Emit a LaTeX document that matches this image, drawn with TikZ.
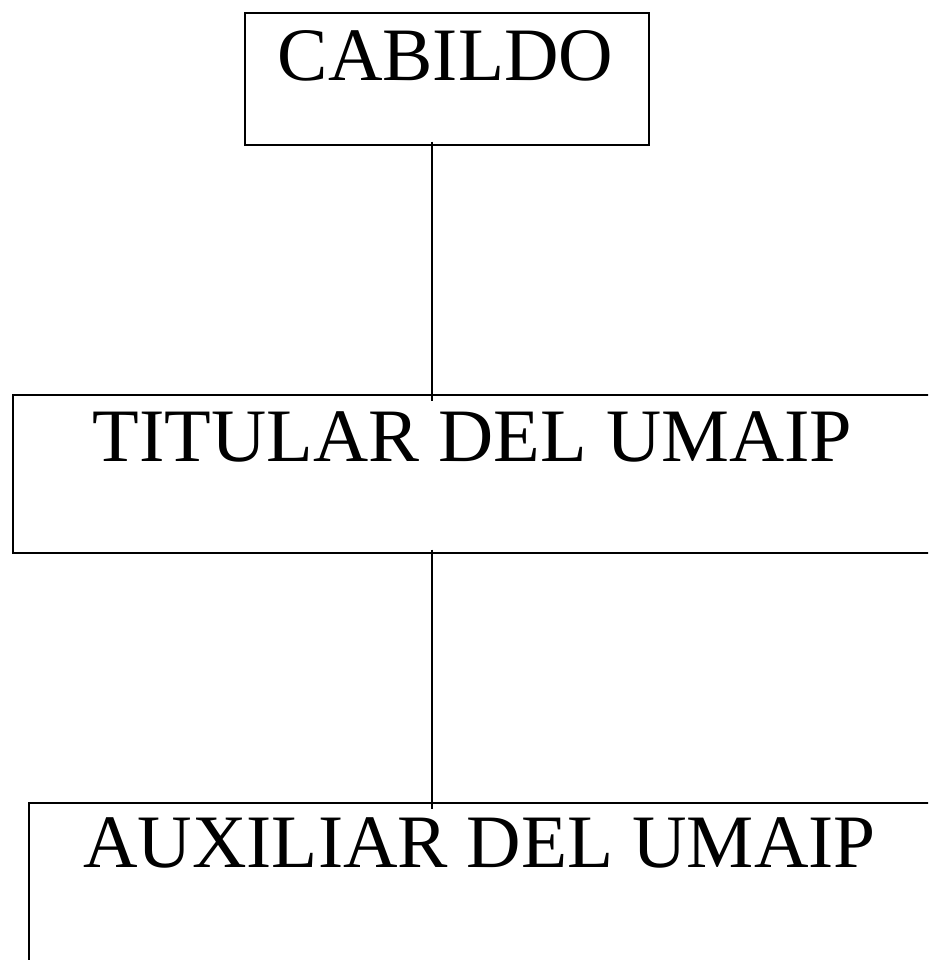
\documentclass[tikz,border=0pt]{standalone}
\usepackage{fontspec}
\setmainfont{Liberation Serif}
\begin{document}
\begin{tikzpicture}[x=0.75pt,y=-0.75pt,
  box/.style={draw=black, line width=1.5pt, rectangle, inner sep=0pt, anchor=north west},
  lbl/.style={font=\fontsize{56.6pt}{60pt}\selectfont, anchor=base, inner sep=0pt},
  link/.style={draw=black, line width=1.3pt}]
\useasboundingbox (0,0) rectangle (928,960);
\clip (0,0) rectangle (928,960);
\node[box, minimum width=404*0.75pt, minimum height=131.5*0.75pt] (cab) at (244,12) {};
\node[box, minimum width=940*0.75pt, minimum height=157.5*0.75pt] (tit) at (12,394) {};
\node[box, minimum width=920*0.75pt, minimum height=200*0.75pt] (aux) at (27.5,802) {};
\node[lbl] (tcab) at (445.5,80) {CABILDO};
\node[lbl, xscale=1.012] (ttit) at (472.5,461.5) {TITULAR DEL UMAIP};
\node[lbl] (taux) at (479.5,867.5) {AUXILIAR DEL UMAIP};
\coordinate (lx) at (432,0);
\draw[link] ([yshift=3pt]cab.south -| lx) -- ([yshift=-5pt]tit.north -| lx);
\draw[link] ([yshift=3pt]tit.south -| lx) -- ([yshift=-5pt]aux.north -| lx);
\end{tikzpicture}
\end{document}
